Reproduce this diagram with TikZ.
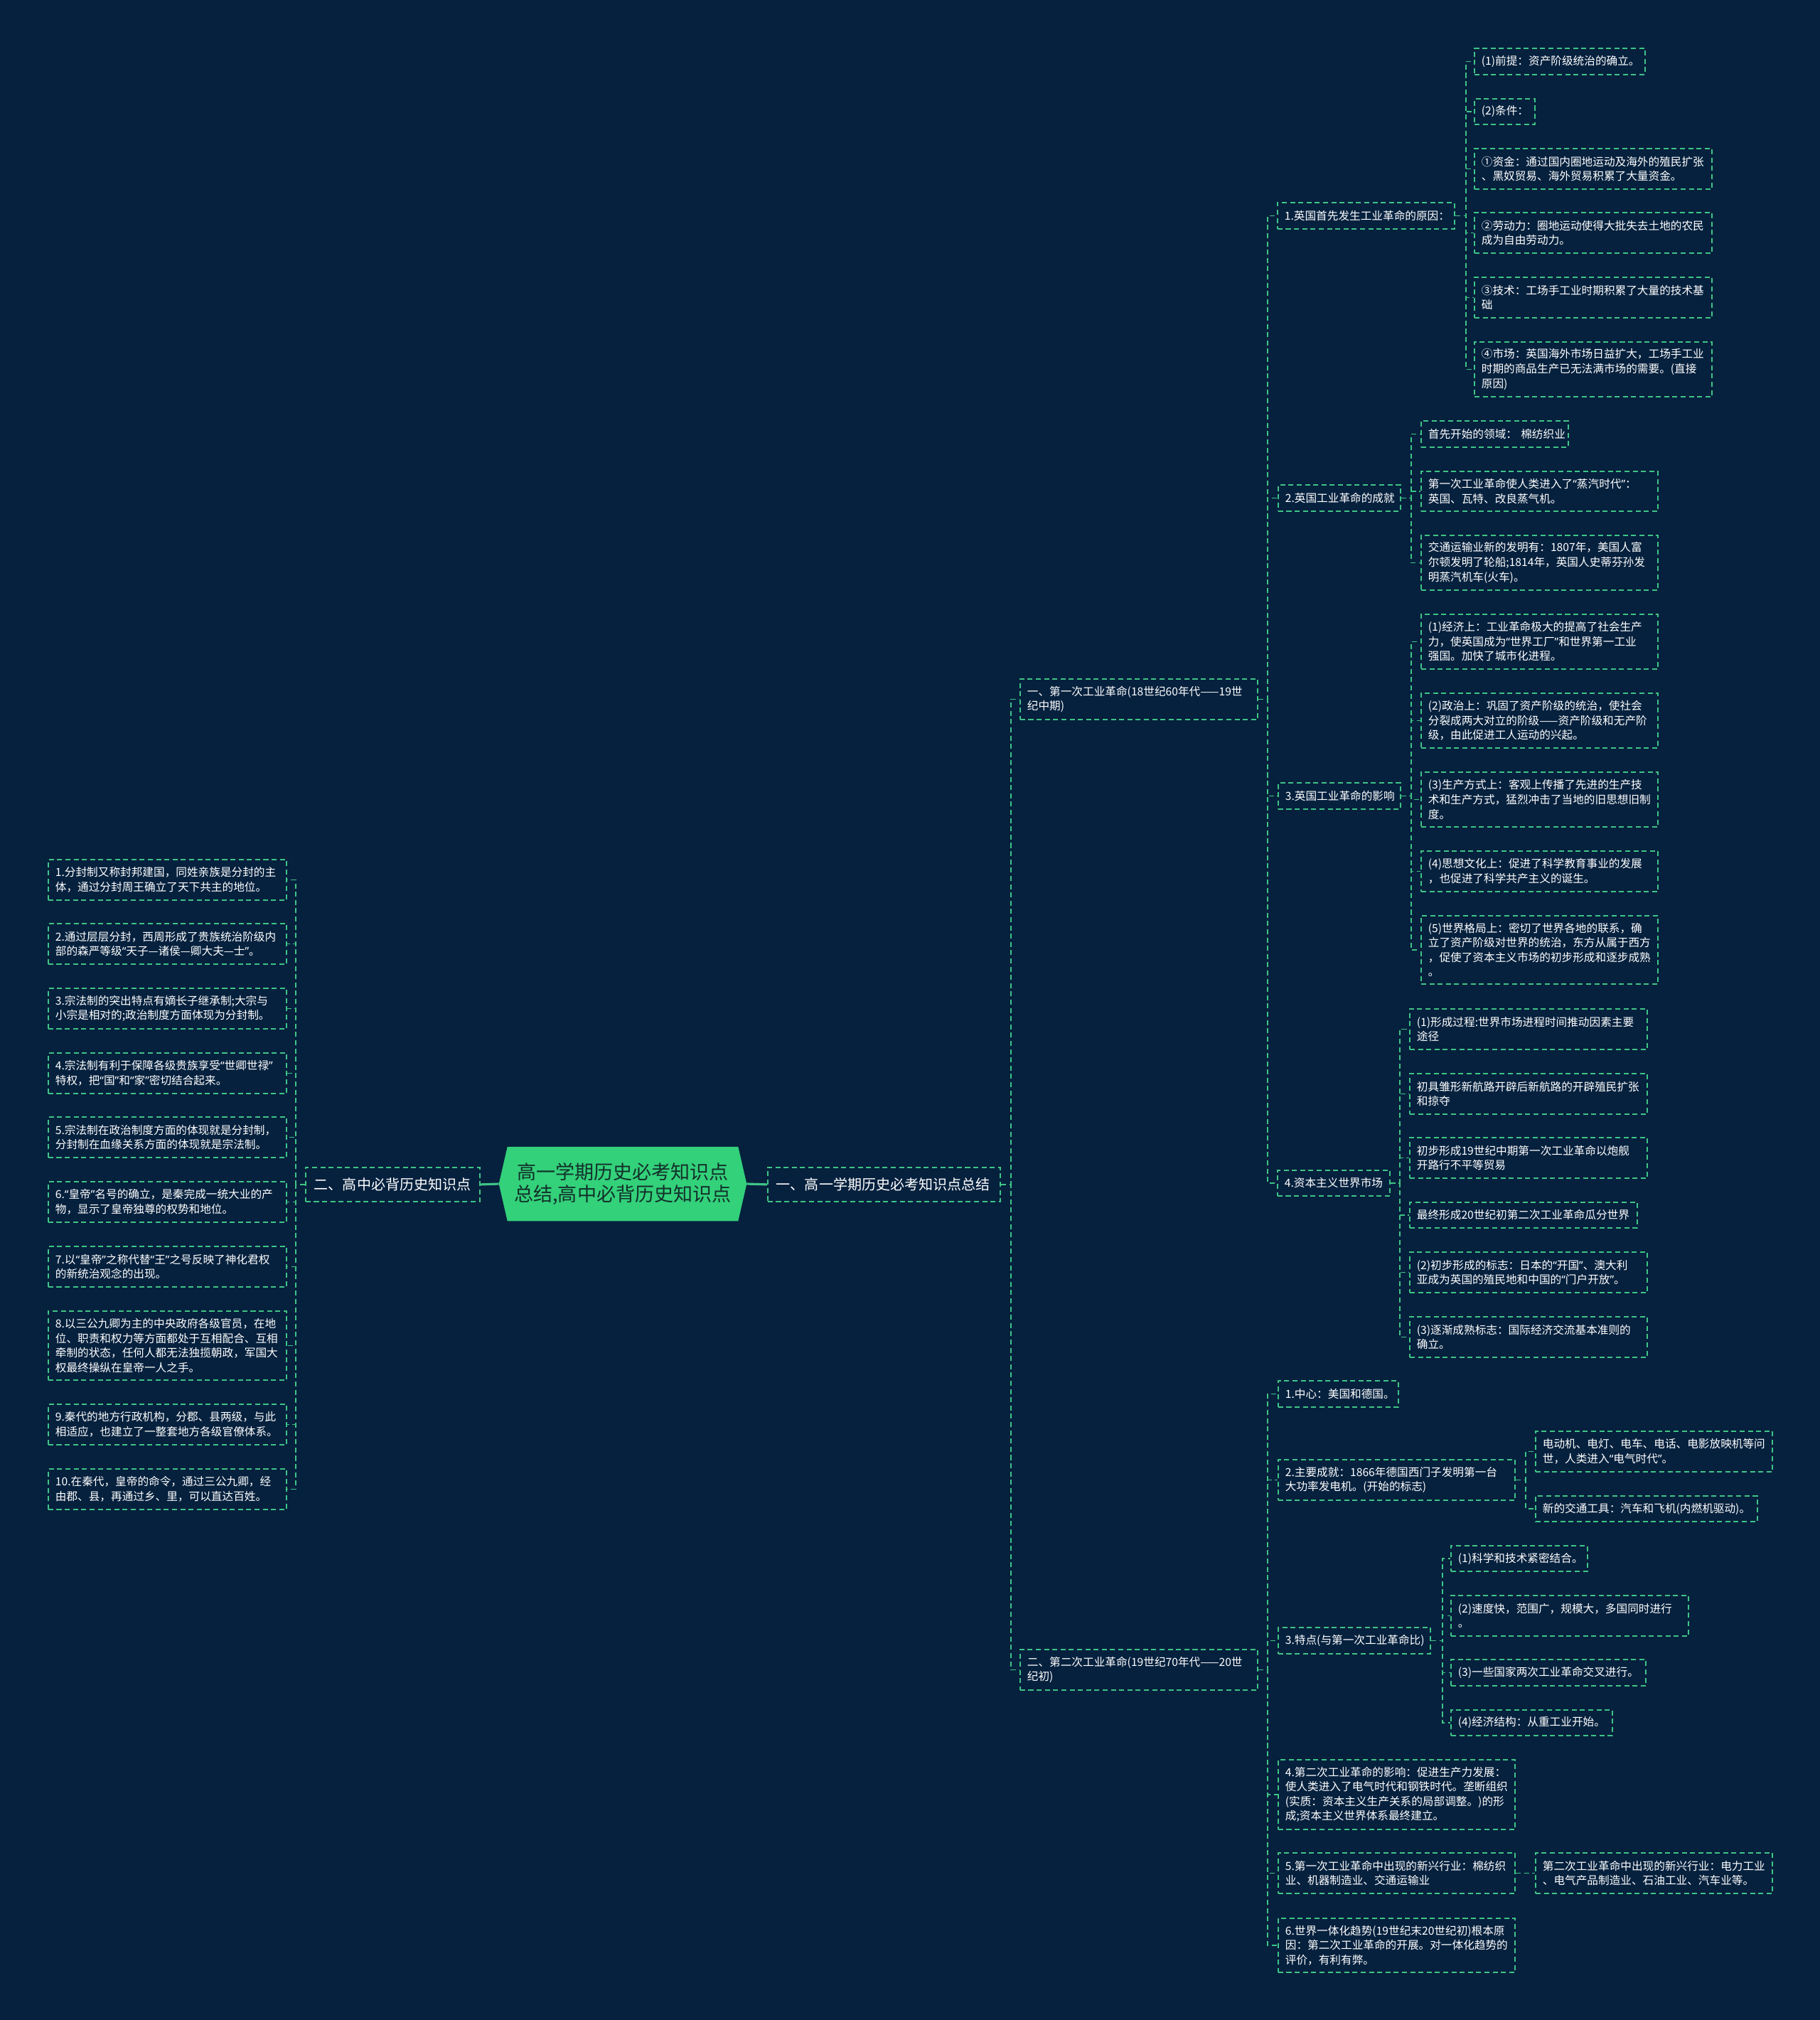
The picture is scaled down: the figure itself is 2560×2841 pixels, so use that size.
\documentclass[tikz,border=0pt]{standalone}
\usepackage{fontspec}
\usepackage{newunicodechar}
\setmainfont{Noto Sans CJK SC}
\newfontfamily\quotefont{Noto Sans}
\newunicodechar{“}{{\quotefont\char"201C}}
\newunicodechar{”}{{\quotefont\char"201D}}
\usetikzlibrary{backgrounds}
\definecolor{histBg}{HTML}{06213E}
\definecolor{histGreen}{HTML}{3FC486}
\definecolor{histRoot}{HTML}{33D17A}
\definecolor{histRootText}{HTML}{12302A}
\tikzset{
  hist/box/.style   = {draw=histGreen, dash pattern=on 2pt off 1.3pt, line width=0.5pt,
                       anchor=north west, align=left, text=white, inner xsep=0.1cm, inner ysep=0.04cm,
                       font=\fontsize{4.45}{5.85}\selectfont},
  hist/topic/.style = {hist/box, inner xsep=0.12cm, font=\fontsize{5.7}{6.8}\selectfont},
  hist/root/.style  = {inner sep=0pt, align=center, text=histRootText,
                       minimum width=3.23cm, minimum height=1.03cm,
                       font=\fontsize{7.7}{8.6}\selectfont},
  hist/link/.style  = {draw=histGreen, dash pattern=on 2pt off 1.3pt, line width=0.5pt},
  hist/trunk/.style = {draw=histGreen, line width=0.9pt},
}

\begin{document}
\begin{tikzpicture}[x=0.01cm, y=-0.01cm]
  \useasboundingbox (0,0) rectangle (2560,2841);
  % --- Root and the two main topics ---
  \node[hist/root] (root) at (876,1665) {高一学期历史必考知识点\\总结,高中必背历史知识点};
  \node[hist/topic, text width=2.21cm, minimum height=0.48cm] (hs) at (429,1641) {二、高中必背历史知识点};
  \node[hist/topic, text width=3.03cm, minimum height=0.48cm] (gy) at (1079,1641) {一、高一学期历史必考知识点总结};
  % --- Left column: 高中必背 ---
  \node[hist/box, text width=3.15cm, minimum height=0.57cm] (hs1) at (67,1208) {1.分封制又称封邦建国，同姓亲族是分封的主\\体，通过分封周王确立了天下共主的地位。};
  \node[hist/box, text width=3.15cm, minimum height=0.57cm] (hs2) at (67,1298) {2.通过层层分封，西周形成了贵族统治阶级内\\部的森严等级“天子—诸侯—卿大夫—士”。};
  \node[hist/box, text width=3.15cm, minimum height=0.57cm] (hs3) at (67,1389) {3.宗法制的突出特点有嫡长子继承制;大宗与\\小宗是相对的;政治制度方面体现为分封制。};
  \node[hist/box, text width=3.15cm, minimum height=0.57cm] (hs4) at (67,1480) {4.宗法制有利于保障各级贵族享受“世卿世禄”\\特权，把“国”和“家”密切结合起来。};
  \node[hist/box, text width=3.15cm, minimum height=0.57cm] (hs5) at (67,1570) {5.宗法制在政治制度方面的体现就是分封制，\\分封制在血缘关系方面的体现就是宗法制。};
  \node[hist/box, text width=3.15cm, minimum height=0.57cm] (hs6) at (67,1661) {6.“皇帝”名号的确立，是秦完成一统大业的产\\物，显示了皇帝独尊的权势和地位。};
  \node[hist/box, text width=3.15cm, minimum height=0.57cm] (hs7) at (67,1752) {7.以“皇帝”之称代替“王”之号反映了神化君权\\的新统治观念的出现。};
  \node[hist/box, text width=3.15cm, minimum height=0.97cm] (hs8) at (67,1843) {8.以三公九卿为主的中央政府各级官员，在地\\位、职责和权力等方面都处于互相配合、互相\\牵制的状态，任何人都无法独揽朝政，军国大\\权最终操纵在皇帝一人之手。};
  \node[hist/box, text width=3.15cm, minimum height=0.57cm] (hs9) at (67,1974) {9.秦代的地方行政机构，分郡、县两级，与此\\相适应，也建立了一整套地方各级官僚体系。};
  \node[hist/box, text width=3.15cm, minimum height=0.57cm] (hs10) at (67,2065) {10.在秦代，皇帝的命令，通过三公九卿，经\\由郡、县，再通过乡、里，可以直达百姓。};
  % --- Right: the two industrial revolutions ---
  \node[hist/box, text width=3.14cm, minimum height=0.57cm] (gyA) at (1434,954) {一、第一次工业革命(18世纪60年代——19世\\纪中期)};
  \node[hist/box, text width=3.14cm, minimum height=0.57cm] (gyB) at (1434,2319) {二、第二次工业革命(19世纪70年代——20世\\纪初)};
  % --- First revolution, level 3 ---
  \node[hist/box, text width=2.29cm, minimum height=0.37cm] (gyA1) at (1796,284) {1.英国首先发生工业革命的原因：};
  \node[hist/box, text width=1.52cm, minimum height=0.37cm] (gyA2) at (1797,681) {2.英国工业革命的成就};
  \node[hist/box, text width=1.52cm, minimum height=0.37cm] (gyA3) at (1797,1100) {3.英国工业革命的影响};
  \node[hist/box, text width=1.38cm, minimum height=0.36cm] (gyA4) at (1796,1645) {4.资本主义世界市场};
  % causes
  \node[hist/box, text width=2.20cm, minimum height=0.37cm] (gyA1a) at (2073,67) {(1)前提：资产阶级统治的确立。};
  \node[hist/box, text width=0.65cm, minimum height=0.36cm] (gyA1b) at (2073,138) {(2)条件：};
  \node[hist/box, text width=3.14cm, minimum height=0.57cm] (gyA1c) at (2073,208) {①资金：通过国内圈地运动及海外的殖民扩张\\、黑奴贸易、海外贸易积累了大量资金。};
  \node[hist/box, text width=3.14cm, minimum height=0.57cm] (gyA1d) at (2073,298) {②劳动力：圈地运动使得大批失去土地的农民\\成为自由劳动力。};
  \node[hist/box, text width=3.14cm, minimum height=0.57cm] (gyA1e) at (2073,389) {③技术：工场手工业时期积累了大量的技术基\\础};
  \node[hist/box, text width=3.14cm, minimum height=0.77cm] (gyA1f) at (2073,480) {④市场：英国海外市场日益扩大，工场手工业\\时期的商品生产已无法满市场的需要。(直接\\原因)};
  % achievements
  \node[hist/box, text width=1.87cm, minimum height=0.37cm] (gyA2a) at (1998,591) {首先开始的领域：~棉纺织业};
  \node[hist/box, text width=3.13cm, minimum height=0.56cm] (gyA2b) at (1998,662) {第一次工业革命使人类进入了“蒸汽时代”：\\英国、瓦特、改良蒸气机。};
  \node[hist/box, text width=3.13cm, minimum height=0.77cm] (gyA2c) at (1998,752) {交通运输业新的发明有：1807年，美国人富\\尔顿发明了轮船;1814年，英国人史蒂芬孙发\\明蒸汽机车(火车)。};
  % influence
  \node[hist/box, text width=3.13cm, minimum height=0.77cm] (gyA3a) at (1998,863) {(1)经济上：工业革命极大的提高了社会生产\\力，使英国成为“世界工厂”和世界第一工业\\强国。加快了城市化进程。};
  \node[hist/box, text width=3.13cm, minimum height=0.77cm] (gyA3b) at (1998,974) {(2)政治上：巩固了资产阶级的统治，使社会\\分裂成两大对立的阶级——资产阶级和无产阶\\级，由此促进工人运动的兴起。};
  \node[hist/box, text width=3.13cm, minimum height=0.77cm] (gyA3c) at (1998,1085) {(3)生产方式上：客观上传播了先进的生产技\\术和生产方式，猛烈冲击了当地的旧思想旧制\\度。};
  \node[hist/box, text width=3.13cm, minimum height=0.57cm] (gyA3d) at (1998,1196) {(4)思想文化上：促进了科学教育事业的发展\\，也促进了科学共产主义的诞生。};
  \node[hist/box, text width=3.13cm, minimum height=0.96cm] (gyA3e) at (1998,1287) {(5)世界格局上：密切了世界各地的联系，确\\立了资产阶级对世界的统治，东方从属于西方\\，促使了资本主义市场的初步形成和逐步成熟\\。};
  % world market
  \node[hist/box, text width=3.14cm, minimum height=0.57cm] (gyA4a) at (1982,1418) {(1)形成过程:世界市场进程时间推动因素主要\\途径};
  \node[hist/box, text width=3.14cm, minimum height=0.57cm] (gyA4b) at (1982,1509) {初具雏形新航路开辟后新航路的开辟殖民扩张\\和掠夺};
  \node[hist/box, text width=3.14cm, minimum height=0.57cm] (gyA4c) at (1982,1599) {初步形成19世纪中期第一次工业革命以炮舰\\开路行不平等贸易};
  \node[hist/box, text width=3.00cm, minimum height=0.36cm] (gyA4d) at (1982,1690) {最终形成20世纪初第二次工业革命瓜分世界};
  \node[hist/box, text width=3.14cm, minimum height=0.57cm] (gyA4e) at (1982,1760) {(2)初步形成的标志：日本的“开国”、澳大利\\亚成为英国的殖民地和中国的“门户开放”。};
  \node[hist/box, text width=3.14cm, minimum height=0.57cm] (gyA4f) at (1982,1851) {(3)逐渐成熟标志：国际经济交流基本准则的\\确立。};
  % --- Second revolution, level 3 ---
  \node[hist/box, text width=1.49cm, minimum height=0.37cm] (gyB1) at (1797,1941) {1.中心：美国和德国。};
  \node[hist/box, text width=3.13cm, minimum height=0.57cm] (gyB2) at (1797,2052) {2.主要成就：1866年德国西门子发明第一台\\大功率发电机。(开始的标志)};
  \node[hist/box, text width=1.94cm, minimum height=0.37cm] (gyB3) at (1797,2288) {3.特点(与第一次工业革命比)};
  \node[hist/box, text width=3.13cm, minimum height=0.98cm] (gyB4) at (1797,2474) {4.第二次工业革命的影响：促进生产力发展：\\使人类进入了电气时代和钢铁时代。垄断组织\\(实质：资本主义生产关系的局部调整。)的形\\成;资本主义世界体系最终建立。};
  \node[hist/box, text width=3.13cm, minimum height=0.57cm] (gyB5) at (1797,2605) {5.第一次工业革命中出现的新兴行业：棉纺织\\业、机器制造业、交通运输业};
  \node[hist/box, text width=3.13cm, minimum height=0.76cm] (gyB6) at (1797,2697) {6.世界一体化趋势(19世纪末20世纪初)根本原\\因：第二次工业革命的开展。对一体化趋势的\\评价，有利有弊。};
  % achievements / features / new industries
  \node[hist/box, text width=3.13cm, minimum height=0.57cm] (gyB2a) at (2159,2012) {电动机、电灯、电车、电话、电影放映机等问\\世，人类进入“电气时代”。};
  \node[hist/box, text width=2.92cm, minimum height=0.36cm] (gyB2b) at (2159,2103) {新的交通工具：汽车和飞机(内燃机驱动)。};
  \node[hist/box, text width=1.72cm, minimum height=0.36cm] (gyB3a) at (2040,2173) {(1)科学和技术紧密结合。};
  \node[hist/box, text width=3.14cm, minimum height=0.57cm] (gyB3b) at (2040,2243) {(2)速度快，范围广，规模大，多国同时进行\\。};
  \node[hist/box, text width=2.54cm, minimum height=0.37cm] (gyB3c) at (2040,2333) {(3)一些国家两次工业革命交叉进行。};
  \node[hist/box, text width=2.07cm, minimum height=0.36cm] (gyB3d) at (2040,2404) {(4)经济结构：从重工业开始。};
  \node[hist/box, text width=3.13cm, minimum height=0.57cm] (gyB5a) at (2159,2605) {第二次工业革命中出现的新兴行业：电力工业\\、电气产品制造业、石油工业、汽车业等。};
  % --- Background and root hexagon ---
  \begin{scope}[on background layer]
    \fill[histBg] (0,0) rectangle (2560,2841);
    \fill[histRoot] (root.north west) -- (root.north east) -- ([xshift=0.12cm]root.east)
      -- (root.south east) -- (root.south west) -- ([xshift=-0.12cm]root.west) -- cycle;
  \end{scope}
  % --- Connectors ---
  \draw[hist/trunk] ([xshift=-0.12cm]root.west) -- (hs.east);
  \draw[hist/trunk] ([xshift=0.12cm]root.east) -- (gy.west);
  \foreach \c in {hs1,hs2,hs3,hs4,hs5,hs6,hs7,hs8,hs9,hs10}
    \draw[hist/link] (hs.west) -- ++(-13,0) |- (\c.east);
  \foreach \c in {gyA,gyB}
    \draw[hist/link] (gy.east) -- ++(14,0) |- (\c.west);
  \foreach \c in {gyA1,gyA2,gyA3,gyA4}
    \draw[hist/link] (gyA.east) -- ++(13,0) |- (\c.west);
  \foreach \c in {gyA1a,gyA1b,gyA1c,gyA1d,gyA1e,gyA1f}
    \draw[hist/link] (gyA1.east) -- ++(15,0) |- (\c.west);
  \foreach \c in {gyA2a,gyA2b,gyA2c}
    \draw[hist/link] (gyA2.east) -- ++(14,0) |- (\c.west);
  \foreach \c in {gyA3a,gyA3b,gyA3c,gyA3d,gyA3e}
    \draw[hist/link] (gyA3.east) -- ++(14,0) |- (\c.west);
  \foreach \c in {gyA4a,gyA4b,gyA4c,gyA4d,gyA4e,gyA4f}
    \draw[hist/link] (gyA4.east) -- ++(13,0) |- (\c.west);
  \foreach \c in {gyB1,gyB2,gyB3,gyB4,gyB5,gyB6}
    \draw[hist/link] (gyB.east) -- ++(13,0) |- (\c.west);
  \foreach \c in {gyB2a,gyB2b}
    \draw[hist/link] (gyB2.east) -- ++(14,0) |- (\c.west);
  \foreach \c in {gyB3a,gyB3b,gyB3c,gyB3d}
    \draw[hist/link] (gyB3.east) -- ++(16,0) |- (\c.west);
  \draw[hist/link] (gyB5.east) -- (gyB5a.west);
\end{tikzpicture}
\end{document}
